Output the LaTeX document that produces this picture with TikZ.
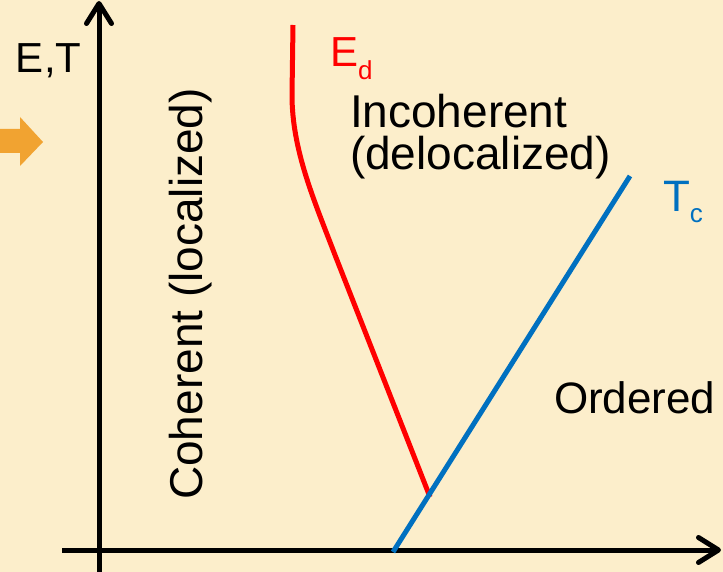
\documentclass[tikz,border=0pt]{standalone}
\usepackage{fontspec}
\setmainfont{Liberation Sans}
\usetikzlibrary{arrows.meta}
\definecolor{bg}{RGB}{252,238,203}
\definecolor{arrowor}{RGB}{241,163,49}
\definecolor{tcblue}{RGB}{0,112,192}
\definecolor{edred}{RGB}{255,0,0}
\tikzset{
  lbl/.style={inner sep=0pt, outer sep=0pt, font=\fontsize{44}{44}\selectfont},
  biglbl/.style={lbl, font=\fontsize{46}{46}\selectfont},
  axis/.style={line width=5pt, -{Straight Barb[length=20pt,width=25pt,line cap=round,line join=round]}},
  curve/.style={line width=5pt}
}
\begin{document}
\begin{tikzpicture}[x=1pt,y=-1pt]
\fill[bg] (0,0) rectangle (723,572);
\useasboundingbox (0,0) rectangle (723,572);
% orange arrow
\fill[arrowor] (0,129) -- (20,129) -- (20,117) -- (43,142) -- (20,166) -- (20,153) -- (0,153) -- cycle;
% axes
\coordinate (ybot) at (99,572);
\coordinate (ytop) at (99,1);
\coordinate (xleft) at (62,550);
\coordinate (xright) at (721,550);
\draw[axis] (ybot) -- (ytop);
\draw[axis] (xleft) -- (xright);
% E_d curve
\coordinate (ed0) at (293,25);
\coordinate (ed1) at (292,95);
\coordinate (ed2) at (335,255);
\coordinate (ed3) at (430,497);
\draw[curve, edred] (ed0) -- (ed1) .. controls (292,150) and (314,200) .. (ed2) -- (ed3);
% T_c line
\coordinate (tc0) at (393,552);
\coordinate (tc1) at (630,176);
\draw[curve, tcblue] (tc0) -- (tc1);
% labels
\node[lbl, anchor=base west, font=\fontsize{42}{42}\selectfont] (et) at (16,73) {E,T};
\node[biglbl, anchor=base west] (inc) at (350,128) {Incoherent};
\node[biglbl, anchor=base west] (deloc) at (350,170) {(delocalized)};
\node[lbl, anchor=base west] (ord) at (554,413) {Ordered};
\node[biglbl, anchor=base, rotate=90] (coh) at (202,294) {Coherent (localized)};
\node[lbl, anchor=base west, text=edred, font=\fontsize{42}{42}\selectfont] (ed) at (330,67) {E\raisebox{-13pt}{\fontsize{26}{26}\selectfont d}};
\node[lbl, anchor=base west, text=tcblue] (tc) at (663,212) {T\raisebox{-11pt}{\fontsize{26}{26}\selectfont c}};
\end{tikzpicture}
\end{document}
